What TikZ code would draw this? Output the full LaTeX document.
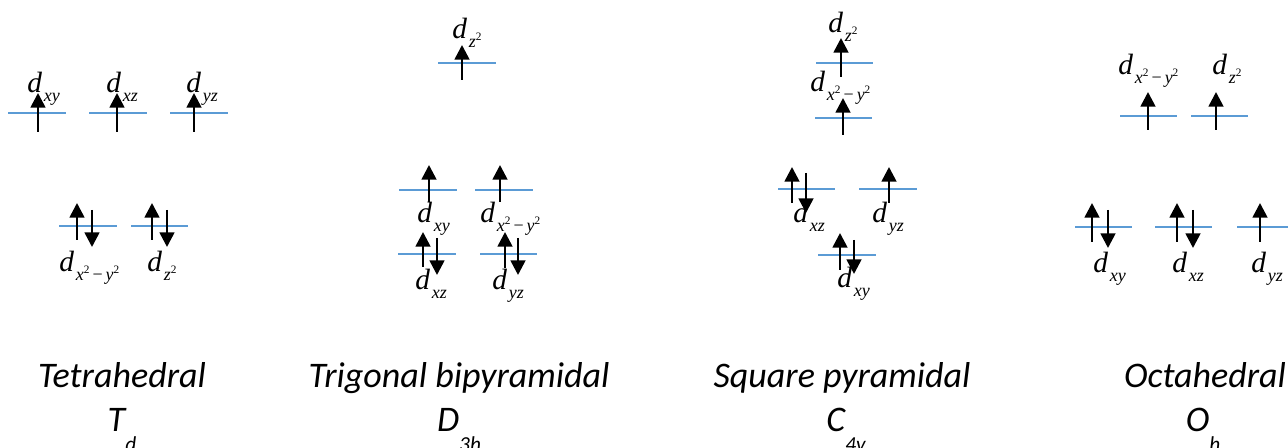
\documentclass[tikz,border=0pt]{standalone}
\usepackage{fontspec}
\usepackage{tikz}
\usetikzlibrary{arrows.meta}
\usepackage{xcolor}
\definecolor{levelblue}{RGB}{91,155,213}
\newfontfamily\orbfont{Liberation Serif}
\newfontfamily\capfont{Carlito}
\newcommand{\orb}[1]{{\orbfont\itshape\fontsize{22}{22}\selectfont d}\hspace{1.5pt}\raisebox{-6.5pt}{\orbfont\itshape\fontsize{13.5}{13.5}\selectfont #1}}
\newcommand{\supsq}{\raisebox{5.5pt}{\upshape\fontsize{8.5}{8.5}\selectfont 2}}
\newcommand{\xsqy}{x\supsq{\upshape\,−\,}y\supsq}
\newcommand{\pgroup}[2]{#1\raisebox{-15pt}{\fontsize{16}{16}\selectfont #2}}

\begin{document}
\begin{tikzpicture}[
    x=0.75pt, y=-0.75pt,
    level/.style={draw=levelblue, line width=1.1pt},
    spin/.style={-{Triangle[width=11pt,length=11pt]}, line width=2pt, black},
    orblabel/.style={anchor=base west, inner sep=0pt},
    caption/.style={anchor=base, inner sep=0pt,
        font=\capfont\itshape\fontsize{27}{27}\selectfont}
]
    \useasboundingbox (0,0) rectangle (1288,448);

    % tetrahedral
    \draw[level] (8,113) -- (66,113);
    \draw[level] (89,113) -- (147,113);
    \draw[level] (170,113) -- (228,113);
    \draw[level] (59,226) -- (117,226);
    \draw[level] (131,226) -- (188,226);
    \node[orblabel] (tdxy) at (27,93) {\orb{xy}};
    \node[orblabel] (tdxz) at (106,93) {\orb{xz}};
    \node[orblabel] (tdyz) at (186,93) {\orb{yz}};
    \node[orblabel] (tdx2y2) at (59,272) {\orb{\xsqy}};
    \node[orblabel] (tdz2) at (147,272) {\orb{z\supsq}};
    \draw[spin] (38,132) -- (38,93);
    \draw[spin] (117,132) -- (117,93);
    \draw[spin] (194,132) -- (194,93);
    \draw[spin] (77,240) -- (77,203);
    \draw[spin] (92,210) -- (92,247);
    \draw[spin] (152,240) -- (152,203);
    \draw[spin] (167,210) -- (167,247);

    % trigonal bipyramidal
    \draw[level] (438,63) -- (496,63);
    \draw[level] (399,190) -- (457,190);
    \draw[level] (475,190) -- (533,190);
    \draw[level] (398,254) -- (456,254);
    \draw[level] (480,254) -- (537,254);
    \node[orblabel] (tbz2) at (452,39) {\orb{z\supsq}};
    \node[orblabel] (tbxy) at (417,223) {\orb{xy}};
    \node[orblabel] (tbx2y2) at (480,223) {\orb{\xsqy}};
    \node[orblabel] (tbxz) at (415,290) {\orb{xz}};
    \node[orblabel] (tbyz) at (492,290) {\orb{yz}};
    \draw[spin] (462,80) -- (462,45);
    \draw[spin] (429,202) -- (429,165);
    \draw[spin] (500,202) -- (500,165);
    \draw[spin] (423,267) -- (423,232);
    \draw[spin] (437,238) -- (437,275);
    \draw[spin] (505,268) -- (505,232);
    \draw[spin] (518,238) -- (518,275);

    % square pyramidal
    \draw[level] (816,63) -- (873,63);
    \draw[level] (815,118) -- (872,118);
    \draw[level] (778,189) -- (835,189);
    \draw[level] (859,189) -- (917,189);
    \draw[level] (818,255) -- (876,255);
    \node[orblabel] (spz2) at (828,33) {\orb{z\supsq}};
    \node[orblabel] (spx2y2) at (810,92) {\orb{\xsqy}};
    \node[orblabel] (spxz) at (793,223) {\orb{xz}};
    \node[orblabel] (spyz) at (872,223) {\orb{yz}};
    \node[orblabel] (spxy) at (837,288) {\orb{xy}};
    \draw[spin] (841,77) -- (841,38);
    \draw[spin] (843,135) -- (843,98);
    \draw[spin] (792,203) -- (792,167);
    \draw[spin] (806,173) -- (806,213);
    \draw[spin] (889,203) -- (889,167);
    \draw[spin] (840,270) -- (840,233);
    \draw[spin] (854,240) -- (854,274);

    % octahedral
    \draw[level] (1120,116) -- (1177,116);
    \draw[level] (1191,116) -- (1248,116);
    \draw[level] (1075,227) -- (1132,227);
    \draw[level] (1155,227) -- (1212,227);
    \draw[level] (1237,227) -- (1294,227);
    \node[orblabel] (ohx2y2) at (1118,75) {\orb{\xsqy}};
    \node[orblabel] (ohz2) at (1212,75) {\orb{z\supsq}};
    \node[orblabel] (ohxy) at (1093,273) {\orb{xy}};
    \node[orblabel] (ohxz) at (1172,273) {\orb{xz}};
    \node[orblabel] (ohyz) at (1251,273) {\orb{yz}};
    \draw[spin] (1148,130) -- (1148,92);
    \draw[spin] (1216,130) -- (1216,92);
    \draw[spin] (1092,242) -- (1092,203);
    \draw[spin] (1108,210) -- (1108,248);
    \draw[spin] (1177,242) -- (1177,203);
    \draw[spin] (1193,210) -- (1193,248);
    \draw[spin] (1260,242) -- (1260,203);

    % captions
    \node[caption] (tdname) at (122,388) {Tetrahedral};
    \node[caption] (tdsym) at (122,432) {\pgroup{T}{d}};
    \node[caption] (tbname) at (459,388) {Trigonal bipyramidal};
    \node[caption] (tbsym) at (459,432) {\pgroup{D}{3h}};
    \node[caption] (spname) at (842,388) {Square pyramidal};
    \node[caption] (spsym) at (846,432) {\pgroup{C}{4v}};
    \node[caption] (ohname) at (1205,388) {Octahedral};
    \node[caption] (ohsym) at (1203,432) {\pgroup{O}{h}};
\end{tikzpicture}
\end{document}
